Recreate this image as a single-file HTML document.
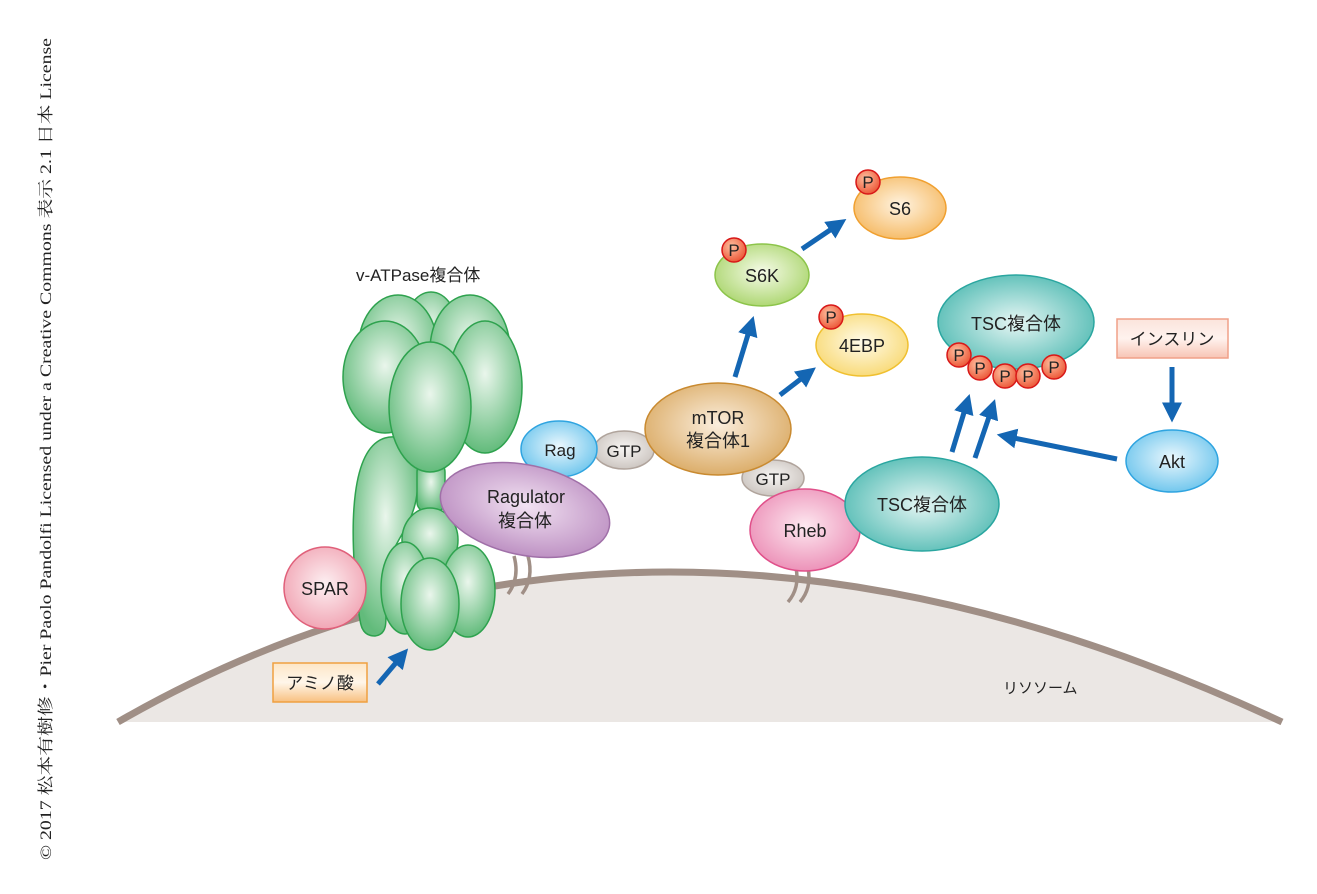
<!DOCTYPE html>
<html><head><meta charset="utf-8"><style>
html,body{margin:0;padding:0;background:#fff;width:1317px;height:894px;overflow:hidden}
svg{display:block}
text{font-family:"Liberation Sans","Noto Sans CJK JP",sans-serif;fill:#222}
</style></head><body>
<svg width="1317" height="894" viewBox="0 0 1317 894" xmlns="http://www.w3.org/2000/svg">
<defs>
<radialGradient id="g" cx="50%" cy="40%" r="60%"><stop offset="0" stop-color="#eaf6ec"/><stop offset="1" stop-color="#62bb7b"/></radialGradient>
<radialGradient id="pk" cx="50%" cy="45%" r="60%"><stop offset="0" stop-color="#fde8f0"/><stop offset="1" stop-color="#eb8bb4"/></radialGradient>
<radialGradient id="sp" cx="50%" cy="45%" r="60%"><stop offset="0" stop-color="#fdf0f2"/><stop offset="1" stop-color="#f0a0b0"/></radialGradient>
<radialGradient id="pu" cx="50%" cy="45%" r="60%"><stop offset="0" stop-color="#f2e2f2"/><stop offset="1" stop-color="#b98abf"/></radialGradient>
<radialGradient id="bl" cx="50%" cy="45%" r="60%"><stop offset="0" stop-color="#eaf7fd"/><stop offset="1" stop-color="#68c3ec"/></radialGradient>
<radialGradient id="gr" cx="50%" cy="45%" r="60%"><stop offset="0" stop-color="#f7f5f3"/><stop offset="1" stop-color="#c9c2bd"/></radialGradient>
<radialGradient id="br" cx="50%" cy="45%" r="60%"><stop offset="0" stop-color="#fbeedd"/><stop offset="1" stop-color="#d9a860"/></radialGradient>
<radialGradient id="tl" cx="50%" cy="50%" r="60%"><stop offset="0" stop-color="#e6f6f4"/><stop offset="1" stop-color="#4bb8b0"/></radialGradient>
<radialGradient id="lg" cx="50%" cy="45%" r="60%"><stop offset="0" stop-color="#f6fbe8"/><stop offset="1" stop-color="#a8d46a"/></radialGradient>
<radialGradient id="or" cx="50%" cy="45%" r="60%"><stop offset="0" stop-color="#fff3e0"/><stop offset="1" stop-color="#f5b860"/></radialGradient>
<radialGradient id="ye" cx="50%" cy="45%" r="60%"><stop offset="0" stop-color="#fffbea"/><stop offset="1" stop-color="#f8d870"/></radialGradient>
<radialGradient id="pp" cx="40%" cy="35%" r="65%"><stop offset="0" stop-color="#ffc0a0"/><stop offset="1" stop-color="#ec5a3a"/></radialGradient>
<linearGradient id="ob" x1="0" y1="0" x2="0" y2="1"><stop offset="0" stop-color="#fde6c6"/><stop offset="0.5" stop-color="#fff6ea"/><stop offset="1" stop-color="#f8c080"/></linearGradient>
<linearGradient id="ib" x1="0" y1="0" x2="0" y2="1"><stop offset="0" stop-color="#fbe4dc"/><stop offset="0.5" stop-color="#fff2ee"/><stop offset="1" stop-color="#f7c4b4"/></linearGradient>
<marker id="ah" markerWidth="4" markerHeight="4" refX="1.5" refY="2" orient="auto" markerUnits="strokeWidth"><path d="M0,0 L4,2 L0,4 z" fill="#1466b3"/></marker>
</defs>

<text transform="translate(51,860) rotate(-90)" font-size="16" textLength="822" lengthAdjust="spacingAndGlyphs" style='font-family:"Liberation Serif","Noto Serif CJK SC",serif'>© 2017 松本有樹修・Pier Paolo Pandolfi Licensed under a Creative Commons 表示 2.1 日本 License</text>

<!-- lysosome -->
<path d="M118,722 Q640,422 1282,722 Z" fill="#ebe7e4"/>
<path d="M118,722 Q640,422 1282,722" fill="none" stroke="#a08f86" stroke-width="7"/>
<text x="1003" y="693" font-size="15">リソソーム</text>

<!-- anchors -->
<g fill="none" stroke="#a08f86" stroke-width="3.5">
<path d="M514,556 Q520,578 508,594"/><path d="M528,556 Q534,578 522,594"/>
<path d="M796,568 Q800,588 788,602"/><path d="M808,568 Q812,588 800,602"/>
</g>

<!-- v-ATPase -->
<text x="356" y="281" font-size="17">v-ATPase複合体</text>
<g fill="url(#g)" stroke="#2ea24e" stroke-width="1.5">
<path d="M358,605 C348,520 352,448 385,438 C415,430 422,468 416,500 C410,532 386,548 385,582 C384,612 392,634 375,636 C360,636 360,622 358,605 Z"/>
<rect x="417" y="462" width="28" height="50" rx="10"/>
<ellipse cx="431" cy="335" rx="28" ry="43"/>
<ellipse cx="398" cy="350" rx="40" ry="55"/>
<ellipse cx="470" cy="350" rx="40" ry="55"/>
<ellipse cx="385" cy="377" rx="42" ry="56"/>
<ellipse cx="485" cy="387" rx="37" ry="66"/>
<ellipse cx="430" cy="407" rx="41" ry="65"/>
<ellipse cx="430" cy="540" rx="28" ry="32"/>
<ellipse cx="405" cy="588" rx="24" ry="46"/>
<ellipse cx="468" cy="591" rx="27" ry="46"/>
<ellipse cx="430" cy="604" rx="29" ry="46"/>
</g>

<!-- SPAR -->
<circle cx="325" cy="588" r="41" fill="url(#sp)" stroke="#e0607a" stroke-width="1.5"/>
<text x="325" y="595" font-size="18" text-anchor="middle">SPAR</text>

<!-- Amino acid -->
<rect x="273" y="663" width="94" height="39" fill="url(#ob)" stroke="#f0a040" stroke-width="1.5"/>
<text x="320" y="689" font-size="17" text-anchor="middle">アミノ酸</text>
<line x1="378" y1="684" x2="400" y2="658" stroke="#1466b3" stroke-width="5" marker-end="url(#ah)"/>

<!-- Rag, GTP -->
<ellipse cx="624" cy="450" rx="30" ry="19" fill="url(#gr)" stroke="#b0a49c" stroke-width="1.5"/>
<text x="624" y="457" font-size="17" text-anchor="middle">GTP</text>
<ellipse cx="559" cy="449" rx="38" ry="28" fill="url(#bl)" stroke="#2fa4e0" stroke-width="1.5"/>
<text x="560" y="456" font-size="17" text-anchor="middle">Rag</text>

<!-- Ragulator -->
<ellipse cx="525" cy="510" rx="86" ry="45" transform="rotate(12 525 510)" fill="url(#pu)" stroke="#a070a8" stroke-width="1.5"/>
<text x="526" y="503" font-size="18" text-anchor="middle">Ragulator</text>
<text x="525" y="527" font-size="18" text-anchor="middle">複合体</text>

<!-- mTOR -->
<ellipse cx="773" cy="478" rx="31" ry="18" fill="url(#gr)" stroke="#b0a49c" stroke-width="1.5"/>
<text x="773" y="485" font-size="17" text-anchor="middle">GTP</text>
<ellipse cx="718" cy="429" rx="73" ry="46" fill="url(#br)" stroke="#c98a30" stroke-width="1.5"/>
<text x="718" y="424" font-size="18" text-anchor="middle">mTOR</text>
<text x="718" y="447" font-size="18" text-anchor="middle">複合体1</text>

<!-- Rheb -->
<ellipse cx="805" cy="530" rx="55" ry="41" fill="url(#pk)" stroke="#e0508a" stroke-width="1.5"/>
<text x="805" y="537" font-size="18" text-anchor="middle">Rheb</text>

<!-- TSC lower -->
<ellipse cx="922" cy="504" rx="77" ry="47" fill="url(#tl)" stroke="#2aa6a0" stroke-width="1.5"/>
<text x="922" y="511" font-size="18" text-anchor="middle">TSC複合体</text>

<!-- S6K, S6, 4EBP -->
<ellipse cx="762" cy="275" rx="47" ry="31" fill="url(#lg)" stroke="#8cc44a" stroke-width="1.5"/>
<text x="762" y="282" font-size="18" text-anchor="middle">S6K</text>
<ellipse cx="900" cy="208" rx="46" ry="31" fill="url(#or)" stroke="#f0a030" stroke-width="1.5"/>
<text x="900" y="215" font-size="18" text-anchor="middle">S6</text>
<ellipse cx="862" cy="345" rx="46" ry="31" fill="url(#ye)" stroke="#f0c030" stroke-width="1.5"/>
<text x="862" y="352" font-size="18" text-anchor="middle">4EBP</text>

<!-- TSC upper -->
<ellipse cx="1016" cy="322" rx="78" ry="47" fill="url(#tl)" stroke="#2aa6a0" stroke-width="1.5"/>
<text x="1016" y="330" font-size="18" text-anchor="middle">TSC複合体</text>

<!-- P badges -->
<g stroke="#d81818" stroke-width="1.5" fill="url(#pp)">
<circle cx="734" cy="250" r="12"/><circle cx="868" cy="182" r="12"/><circle cx="831" cy="317" r="12"/>
<circle cx="959" cy="355" r="12"/><circle cx="980" cy="368" r="12"/><circle cx="1005" cy="376" r="12"/><circle cx="1028" cy="376" r="12"/><circle cx="1054" cy="367" r="12"/>
</g>
<g font-size="17" text-anchor="middle">
<text x="734" y="256">P</text><text x="868" y="188">P</text><text x="831" y="323">P</text>
<text x="959" y="361">P</text><text x="980" y="374">P</text><text x="1005" y="382">P</text><text x="1028" y="382">P</text><text x="1054" y="373">P</text>
</g>

<!-- Insulin, Akt -->
<rect x="1117" y="319" width="111" height="39" fill="url(#ib)" stroke="#f0a088" stroke-width="1.5"/>
<text x="1172" y="345" font-size="17" text-anchor="middle">インスリン</text>
<ellipse cx="1172" cy="461" rx="46" ry="31" fill="url(#bl)" stroke="#2fa4e0" stroke-width="1.5"/>
<text x="1172" y="468" font-size="18" text-anchor="middle">Akt</text>

<!-- arrows -->
<g stroke="#1466b3" stroke-width="5" fill="none" marker-end="url(#ah)">
<line x1="735" y1="377" x2="750" y2="328"/>
<line x1="780" y1="395" x2="806" y2="375"/>
<line x1="802" y1="249" x2="836" y2="226"/>
<line x1="952" y1="452" x2="966" y2="406"/>
<line x1="975" y1="458" x2="991" y2="411"/>
<line x1="1117" y1="459" x2="1009" y2="437"/>
<line x1="1172" y1="367" x2="1172" y2="410"/>
</g>
</svg>
</body></html>
